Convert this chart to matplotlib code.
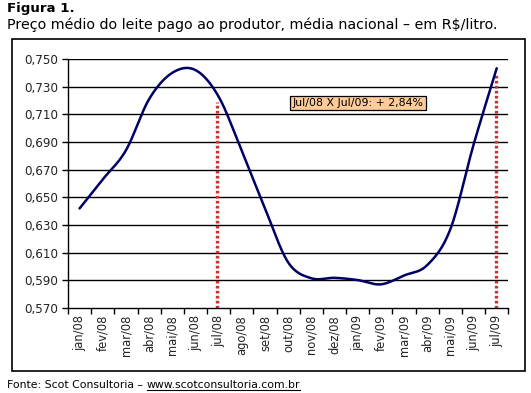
import numpy as np
import matplotlib
matplotlib.use("Agg")
import matplotlib.pyplot as plt
from matplotlib.patches import Rectangle
from matplotlib.lines import Line2D

plt.rcParams['font.family'] = ['DejaVu Sans']

categories = ["jan/08", "fev/08", "mar/08", "abr/08", "mai/08", "jun/08", "jul/08",
              "ago/08", "set/08", "out/08", "nov/08", "dez/08", "jan/09", "fev/09",
              "mar/09", "abr/09", "mai/09", "jun/09", "jul/09"]
prices = [0.642, 0.663, 0.684, 0.721, 0.740, 0.742, 0.7228,
          0.6835, 0.642, 0.603, 0.5915, 0.5918, 0.5902, 0.5871,
          0.5935, 0.601, 0.627, 0.688, 0.7433]
highlight = ["jul/08", "jul/09"]
yticks = [0.570, 0.590, 0.610, 0.630, 0.650, 0.670, 0.690, 0.710, 0.730, 0.750]
ytick_labels = ["0,570", "0,590", "0,610", "0,630", "0,650", "0,670", "0,690", "0,710", "0,730", "0,750"]
annotation = "Jul/08 X Jul/09: + 2,84%"
title1 = "Figura 1."
title2 = "Preço médio do leite pago ao produtor, média nacional – em R$/litro."
source_prefix = "Fonte: Scot Consultoria – "
source_url = "www.scotconsultoria.com.br"

W, H = 531, 393
fig = plt.figure(figsize=(W / 100, H / 100), dpi=100)
fig.patch.set_facecolor("white")

def fx(px):
    return px / W

def fy(py):
    return 1 - py / H

# outer box
fig.patches.append(Rectangle((fx(12), fy(371)), fx(525) - fx(12), fy(39) - fy(371),
                             transform=fig.transFigure, fill=False, edgecolor="black", lw=1.2))

ax = fig.add_axes([fx(68), fy(308), fx(508.3) - fx(68), fy(59) - fy(308)])

x = np.arange(len(categories))
y = np.array(prices)

# Smooth (Excel-like) curve via Bezier segments
def smooth(xs, ys, n=30):
    pts = np.column_stack([xs, ys])
    P = np.vstack([pts[0], pts, pts[-1]])
    out = []
    t = np.linspace(0, 1, n)
    for i in range(1, len(P) - 2):
        p0, p1, p2, p3 = P[i - 1], P[i], P[i + 1], P[i + 2]
        c1 = p1 + (p2 - p0) / 6
        c2 = p2 - (p3 - p1) / 6
        seg = ((1 - t) ** 3)[:, None] * p1 + (3 * (1 - t) ** 2 * t)[:, None] * c1 \
            + (3 * (1 - t) * t ** 2)[:, None] * c2 + (t ** 3)[:, None] * p2
        out.append(seg if i == 1 else seg[1:])
    return np.vstack(out)

curve = smooth(x, y)

for v in yticks[1:]:
    ax.axhline(v, color="black", lw=1.0, zorder=1)

for lab in highlight:
    i = categories.index(lab)
    ax.vlines(x[i] - 0.05, yticks[0], prices[i] - 0.004, colors="#D03030", lw=2.4,
              linestyles=(0, (0.8, 0.7)), zorder=2)

ax.plot(curve[:, 0], curve[:, 1], color="#000066", lw=1.8, zorder=3, solid_capstyle="round")

ax.set_xlim(-0.5, len(categories) - 0.5)
ax.set_ylim(yticks[0], yticks[-1])
ax.set_yticks(yticks)
ax.set_yticklabels(ytick_labels, fontsize=8.6, color="#222222")
ax.set_xticks(x)
ax.set_xticklabels(categories, rotation=90, fontsize=8.3, color="#222222")
ax.set_xticks(np.arange(-0.5, len(categories), 1.0), minor=True)
ax.tick_params(axis="x", which="major", length=0, pad=5)
ax.tick_params(axis="x", which="minor", length=4, width=1, color="black", direction="out")
ax.tick_params(axis="y", length=4, width=1, color="black", direction="out", pad=3)
for s in ["top", "right"]:
    ax.spines[s].set_visible(False)
ax.spines["left"].set_linewidth(1.0)
ax.spines["bottom"].set_linewidth(1.0)

ax.text(0.6585, 0.823, annotation, transform=ax.transAxes, ha="center", va="center",
        fontsize=7.9, color="black",
        bbox=dict(boxstyle="square,pad=0.22", facecolor="#FFCC99", edgecolor="black", lw=0.9))

fig.text(fx(7), fy(2), title1, fontsize=9.6, fontweight="bold", ha="left", va="top")
fig.text(fx(7), fy(18), title2, fontsize=10.3, ha="left", va="top")

t1 = fig.text(fx(7), fy(388), source_prefix, fontsize=7.8, ha="left", va="baseline")
fig.canvas.draw()
r = fig.canvas.get_renderer()
bb = t1.get_window_extent(r)
t2 = fig.text(bb.x1 / W, fy(388), source_url, fontsize=7.8, ha="left", va="baseline", color="#000000")
fig.canvas.draw()
bb2 = t2.get_window_extent(r)
fig.lines.append(Line2D([bb2.x0 / W, bb2.x1 / W], [fy(389.5), fy(389.5)],
                        transform=fig.transFigure, color="black", lw=0.8))

fig.savefig("out.png", dpi=100)
